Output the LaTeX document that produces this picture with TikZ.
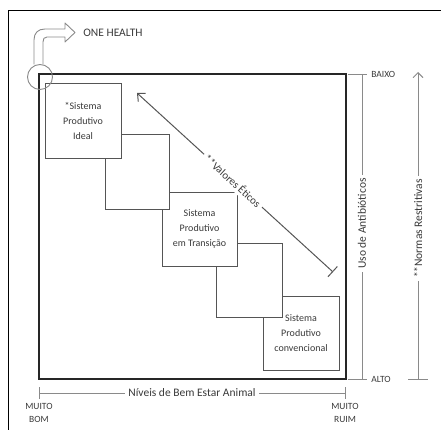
\documentclass[tikz,border=0pt]{standalone}
\usepackage{fontspec}
\setmainfont{Carlito}
\usetikzlibrary{arrows.meta}

\definecolor{boxgray}{HTML}{555555}
\definecolor{axisgray}{HTML}{8A8A8A}
\definecolor{txtgray}{HTML}{3A3A3A}

\begin{document}
\begin{tikzpicture}[x=1pt, y=-1pt, outer sep=0pt, text=txtgray]

\tikzstyle{sysbox}=[draw=boxgray, fill=white, rectangle, line width=0.8pt, align=center, font=\fontsize{10}{15}\selectfont]
\tikzstyle{axis}=[draw=axisgray, line width=0.9pt]
\tikzstyle{axlabel}=[fill=white, inner sep=3pt, font=\fontsize{11.5}{13}\selectfont]
\tikzstyle{endlabel}=[align=center, font=\fontsize{9.5}{13}\selectfont]

\useasboundingbox (0,0) rectangle (441,430);

% moldura externa
\draw[line width=0.8pt] (8,430) -- (8,10) -- (441,10);

% quadro principal
\node[draw=black!85, line width=1.8pt, rectangle, minimum width=307pt, minimum height=305pt] (frame) at (192.5,226.5) {};

% caixas (a primeira fica por cima)
\node[sysbox, minimum width=76pt, minimum height=74pt] (box5) at (301,333) {Sistema\\Produtivo\\convencional};
\node[sysbox, minimum width=66pt, minimum height=74pt] (box4) at (249,280) {};
\node[sysbox, minimum width=75pt, minimum height=74pt] (box3) at (199.5,229) {Sistema\\Produtivo\\em Transição};
\node[sysbox, minimum width=64pt, minimum height=75pt] (box2) at (137,171.5) {};
\node[sysbox, minimum width=76pt, minimum height=75pt] (box1) at (83,120.5) {*Sistema\\Produtivo\\Ideal};

% one health
\node[draw=axisgray, circle, line width=0.9pt, minimum size=25pt] (hub) at (40,77) {};
\draw[axisgray, line width=0.9pt, line join=round]
  ([xshift=-6pt]hub.north) -- (34,40) .. controls (34,33) and (38,29) .. (45,29) -- (65,29) -- (65,23) -- (75,32.5) -- (65,42) -- (65,37) -- (47,37) .. controls (44,37) and (43,39) .. (43,42) -- ([xshift=3pt]hub.north);
\node[anchor=west, font=\fontsize{11.5}{13}\selectfont] (onehealth) at (80,33) {ONE HEALTH};

% valores eticos
\coordinate (vtail) at (333,272);
\coordinate (vhead) at (137,93);
\draw[boxgray, line width=1pt, {Bar[width=14pt]}-{Straight Barb[length=6pt, width=11pt]}] (vtail) -- node[pos=0.51, sloped, fill=white, inner sep=3pt, text=txtgray, font=\fontsize{11}{12}\selectfont] (valores) {**Valores Éticos} (vhead);

% uso de antibioticos
\coordinate (abtop) at (362,74);
\coordinate (abbot) at (362,379);
\draw[axis] (abtop) -- node[pos=0.49, axlabel, rotate=90] (uso) {Uso de Antibióticos} (abbot);
\draw[axis] (348,74) -- (367,74);
\draw[axis] (348,379) -- (367,379);
\node[endlabel, anchor=west] (baixo) at (368,74) {BAIXO};
\node[endlabel, anchor=west] (alto) at (368,379) {ALTO};

% normas restritivas
\coordinate (nrbot) at (418,379);
\coordinate (nrtop) at (418,72);
\draw[axis, -{Straight Barb[length=5pt, width=10pt]}] (nrbot) -- node[pos=0.49, axlabel, rotate=90] (normas) {**Normas Restritivas} (nrtop);
\draw[axis] (408,379) -- (428,379);

% bem estar animal
\coordinate (beleft) at (39,393);
\coordinate (beright) at (345,393);
\draw[axis] (beleft) -- node[pos=0.5, axlabel] (bemestar) {Níveis de Bem Estar Animal} (beright);
\draw[axis] (39,387) -- (39,399);
\draw[axis] (345,387) -- (345,399);
\node[endlabel] (bom) at (39,413) {MUITO\\BOM};
\node[endlabel] (ruim) at (345,413) {MUITO\\RUIM};

\end{tikzpicture}
\end{document}
